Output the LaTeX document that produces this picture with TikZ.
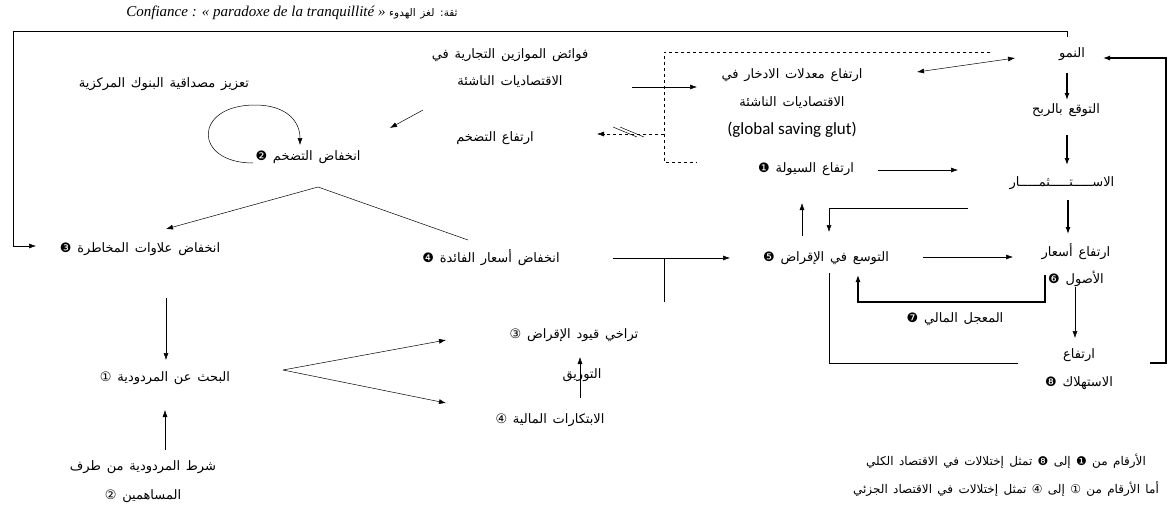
\documentclass[tikz,border=0pt]{standalone}
\usepackage{fontspec}
\setmainfont{Liberation Serif}
\newfontfamily\arabicfont[Script=Arabic,WordSpace=1.4]{DejaVu Sans}
\newfontfamily\glutfont{Carlito}
\usetikzlibrary{arrows.meta,positioning,calc}
\TeXXeTstate=1
\newcommand{\rtl}[1]{\beginR #1\endR}

\begin{document}
\begin{tikzpicture}[x=1pt,y=-1pt,line width=0.5pt,
    every node/.style={font=\arabicfont\fontsize{13}{15}\selectfont,inner sep=1pt,align=center},
    arr/.style={-{Latex[length=7pt,width=5pt]}},
    darr/.style={{Latex[length=7pt,width=5pt]}-{Latex[length=7pt,width=5pt]}},
    heavy/.style={line width=1.1pt}]
  \useasboundingbox (0,0) rectangle (1175,509);
  \node[font=\itshape\fontsize{15}{17}\selectfont] (title) at (292,13)
    {Confiance : « paradoxe de la tranquillité » {\arabicfont\upshape\fontsize{10.5}{12}\selectfont\rtl{ثقة: لغز الهدوء}}};
  % macro chain
  \node (growth) at (1072,54) {\rtl{النمو}};
  \node (profit) at (1066,110) {\rtl{التوقع بالربح}};
  \node (invest) at (1062,183) {\rtl{الاســـــتـــــثمـــــار}};
  \node (assets) at (1076,265) {\rtl{ارتفاع أسعار}\\[11pt]\rtl{الأصول ❻}};
  \node (cons) at (1079,369) {\rtl{ارتفاع}\\[13pt]\rtl{الاستهلاك ❽}};
  \node (credit) at (826,258) {\rtl{التوسع في الإقراض ❺}};
  \node (accel) at (955,319) {\rtl{المعجل المالي ❼}};
  \node (liquidity) at (806,169) {\rtl{ارتفاع السيولة ❶}};
  \node (savings) at (792,89) {\rtl{ارتفاع معدلات الادخار في}\\[13pt]\rtl{الاقتصاديات الناشئة}};
  \node[font=\glutfont\fontsize{17}{19}\selectfont] (glut) at (792,130) {(global saving glut)};
  \node (surplus) at (510,68) {\rtl{فوائض الموازين التجارية في}\\[12pt]\rtl{الاقتصاديات الناشئة}};
  \node (influp) at (495,138) {\rtl{ارتفاع التضخم}};
  \node (infldown) at (308,157) {\rtl{انخفاض التضخم ❷}};
  \node (boost) at (164,84) {\rtl{تعزيز مصداقية البنوك المركزية}};
  \node (risk) at (140,249) {\rtl{انخفاض علاوات المخاطرة ❸}};
  \node (rates) at (491,258) {\rtl{انخفاض أسعار الفائدة ❹}};
  % micro chain
  \node (loosen) at (574,335) {\rtl{تراخي قيود الإقراض ③}};
  \node (securit) at (582,375) {\rtl{التوريق}};
  \node (innov) at (550,420) {\rtl{الابتكارات المالية ④}};
  \node (search) at (165,378) {\rtl{البحث عن المردودية ①}};
  \node (cond) at (143,482) {\rtl{شرط المردودية من طرف}\\[14pt]\rtl{المساهمين ②}};
  \node[font=\arabicfont\fontsize{12}{14}\selectfont] (legend) at (1006,475)
    {\rtl{الأرقام من ❶ إلى ❽ تمثل إختلالات في الاقتصاد الكلي}\\[12pt]
     \rtl{أما الأرقام من ① إلى ④ تمثل إختلالات في الاقتصاد الجزئي}};
  % connectors
  \draw[arr] ($(growth)+(-5,-17)$) -- ++(0,-6) -| ($(risk)+(-127,-3)$) -- ($(risk)+(-104,-3)$);
  \draw[darr] ($(savings)+(125,-17)$) -- ($(growth)+(-57,4)$);
  \draw[arr,heavy] ($(growth)+(-5,19)$) -- ($(profit)+(1,-10)$);
  \draw[arr,heavy] ($(profit)+(1,25)$) -- ($(invest)+(5,-18)$);
  \draw[arr,heavy] ($(invest)+(6,17)$) -- ($(assets)+(-8,-31)$);
  \draw[arr] ($(assets)+(-1,22)$) -- ($(cons)+(-4,-31)$);
  \draw[arr,heavy] ($(cons)+(71,-6)$) -- ++(16,0) |- ($(growth)+(31,4)$);
  \draw ($(credit)+(3,15)$) |- ($(cons)+(-61,-6)$);
  \draw[arr] ($(liquidity)+(72,1)$) -- ($(invest)+(-104,-13)$);
  \draw[arr] ($(invest)+(-94,25)$) -| ($(credit)+(3,-26)$);
  \draw[arr] ($(credit)+(-24,-22)$) -- ($(liquidity)+(-4,34)$);
  \draw[arr] ($(credit)+(97,-1)$) -- ($(assets)+(-63,-8)$);
  \draw[arr,heavy] ($(assets)+(-31,10)$) -- ++(0,27) -| ($(credit)+(32,17)$);
  \draw[arr] ($(rates)+(122,0)$) -- ($(credit)+(-96,0)$);
  \draw ($(loosen)+(90,-33)$) -- ($(rates)+(173,0)$);
  \draw[arr] ($(infldown)+(10,30)$) -- ($(risk)+(26,-20)$);
  \draw ($(infldown)+(10,30)$) -- ($(rates)+(-23,-18)$);
  \draw[arr] ($(infldown)+(-55,6)$) .. controls ($(infldown)+(-115,6)$) and ($(infldown)+(-115,-52)$) .. ($(infldown)+(-53,-52)$)
    .. controls ($(infldown)+(-23,-52)$) and ($(infldown)+(-8,-37)$) .. ($(infldown)+(-8,-12)$);
  \draw[arr] ($(surplus)+(-87,42)$) -- ($(infldown)+(82,-29)$);
  \draw[arr] ($(surplus)+(122,19)$) -- ($(savings)+(-95,-2)$);
  \draw[dashed] ($(growth)+(-82,-2)$) -| ($(liquidity)+(-142,-7)$) -- ($(liquidity)+(-109,-7)$);
  \draw[dashed,arr] ($(savings)+(-128,45)$) -- ($(influp)+(102,-4)$);
  \draw ($(influp)+(118,-11)$) -- ++(24,10) ($(influp)+(125,-11)$) -- ++(24,10);
  \draw[arr] ($(risk)+(26,49)$) -- ($(search)+(1,-18)$);
  \draw[arr] ($(cond)+(22,-32)$) -- ($(search)+(0,32)$);
  \draw[arr] ($(search)+(118,-8)$) -- ($(loosen)+(-128,5)$);
  \draw[arr] ($(search)+(118,-8)$) -- ($(innov)+(-104,-17)$);
  \draw[arr] ($(innov)+(30,-22)$) -- ($(loosen)+(6,22)$);
\end{tikzpicture}
\end{document}
